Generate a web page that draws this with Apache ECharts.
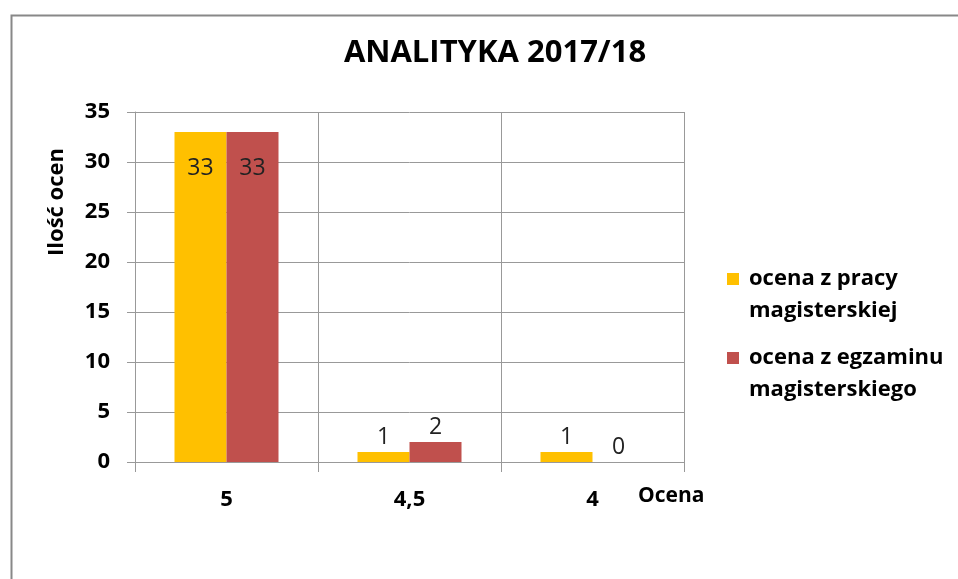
<!DOCTYPE html>
<html>
<head>
<meta charset="utf-8">
<script src="https://cdn.jsdelivr.net/npm/echarts@6/dist/echarts.min.js"></script>
<style>
html,body{margin:0;padding:0;background:#fff;}
#c{width:958px;height:579px;}
</style>
</head>
<body>
<div id="c"></div>
<script>
const categories = ['5', '4,5', '4'];
const seriesNames = ['ocena z pracy magisterskiej', 'ocena z egzaminu magisterskiego'];
const pracaValues = [33, 1, 1];
const egzaminValues = [33, 2, 0];
const yTicks = [0, 5, 10, 15, 20, 25, 30, 35];
const colors = ['#FFC000', '#C0504D'];

const FONT = '"Open Sans", sans-serif';

function toData(vals) {
  return vals.map(v => v >= 10
    ? { value: v, label: { position: 'insideTop', distance: 25 } }
    : { value: v });
}

const chart = echarts.init(document.getElementById('c'), null, { renderer: 'canvas' });
chart.setOption({
  backgroundColor: '#fff',
  animation: false,
  title: {
    text: 'ANALITYKA 2017/18',
    left: 490, top: 33, textAlign: 'center',
    textStyle: { fontFamily: FONT, fontWeight: 'bold', fontSize: 31, color: '#000' }
  },
  grid: { left: 135, top: 112, right: 958 - 684, bottom: 579 - 462, containLabel: false },
  legend: {
    orient: 'vertical',
    left: 722, top: 226,
    itemWidth: 12, itemHeight: 12, itemGap: -17,
    icon: 'rect',
    formatter: function (n) { return '\n' + n.replace(/ magister/, '\nmagister'); },
    textStyle: { fontFamily: FONT, fontWeight: 'bold', fontSize: 22, color: '#000', lineHeight: 32, padding: [0, 0, 0, 5] }
  },
  xAxis: {
    type: 'category',
    data: categories,
    axisLine: { lineStyle: { color: '#999', width: 1 } },
    axisTick: { show: true, length: 10, lineStyle: { color: '#999' } },
    splitLine: { show: true, lineStyle: { color: '#999', width: 1 } },
    axisLabel: { margin: 27, fontFamily: FONT, fontWeight: 'bold', fontSize: 22, color: '#000' }
  },
  yAxis: {
    type: 'value',
    min: 0, max: 35, interval: 5,
    axisLine: { show: true, lineStyle: { color: '#999', width: 1 } },
    axisTick: { show: true, length: 8, lineStyle: { color: '#999' } },
    splitLine: { show: true, lineStyle: { color: '#999', width: 1 } },
    axisLabel: { margin: 25, fontFamily: FONT, fontWeight: 'bold', fontSize: 22, color: '#000',
      formatter: function (v) { return yTicks.indexOf(v) >= 0 ? String(v) : ''; } }
  },
  series: [
    {
      name: seriesNames[0], type: 'bar', data: toData(pracaValues),
      barWidth: 52, barGap: '0%',
      itemStyle: { color: colors[0] },
      label: { show: true, position: 'top', distance: 3, fontFamily: FONT, fontSize: 23, color: '#222' }
    },
    {
      name: seriesNames[1], type: 'bar', data: toData(egzaminValues),
      barWidth: 52, barGap: '0%',
      itemStyle: { color: colors[1] },
      label: { show: true, position: 'top', distance: 3, fontFamily: FONT, fontSize: 23, color: '#222' }
    }
  ],
  graphic: [
    { type: 'rect', left: 9, top: 13, shape: { width: 1000, height: 700 }, style: { fill: 'none', stroke: '#888', lineWidth: 2 }, silent: true, z: -10 },
    { type: 'text', x: 57, y: 202, rotation: Math.PI / 2,
      style: { text: 'Ilość ocen', fontFamily: FONT, fontWeight: 'bold', fontSize: 22, fill: '#000', align: 'center', verticalAlign: 'middle' } },
    { type: 'text', x: 638, y: 496,
      style: { text: 'Ocena', fontFamily: FONT, fontWeight: 'bold', fontSize: 21, fill: '#000', align: 'left', verticalAlign: 'middle' } }
  ]
});
</script>
</body>
</html>
